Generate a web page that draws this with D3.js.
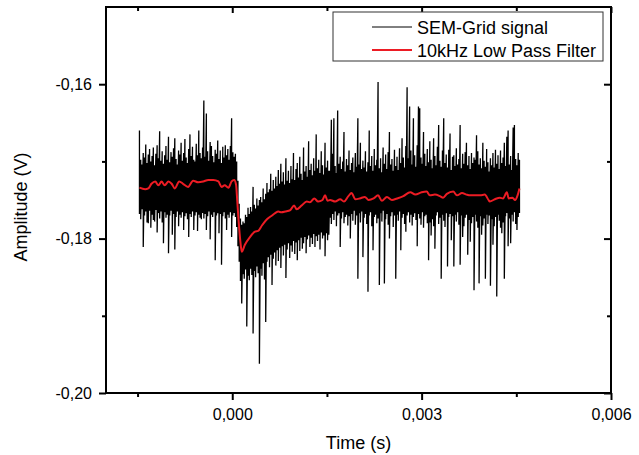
<!DOCTYPE html>
<html>
<head>
<meta charset="utf-8">
<script src="https://cdn.jsdelivr.net/npm/d3@7"></script>
<style>
  html, body { margin: 0; padding: 0; background: #fff; }
  svg { display: block; font-family: "Liberation Sans", Arial, sans-serif; }
</style>
</head>
<body>
<svg id="chart" width="639" height="455"></svg>
<script>
/* -----------------------------------------------------------
   DATA  (time in ms, amplitude in mV; axes print s and V)
----------------------------------------------------------- */
const xMajorTicks = [0, 3, 6];
const xMinorTicks = [-1.5, 1.5, 4.5];
const yMajorTicks = [-200, -180, -160];
const yMinorTicks = [-190, -170];

const legendLabels = ["SEM-Grid signal", "10kHz Low Pass Filter"];

// raw SEM-grid signal, min/max per 20 us bin, first bin at -1.47 ms
const signalStart = -1.47;
const signalStep = 0.02;

const signalMax = [
  -166.0, -169.8, -170.4, -168.9, -169.5, -167.8, -170.2, -169.1, -168.4, -170.0,
  -169.3, -168.2, -170.5, -169.0, -167.9, -169.6, -166.1, -169.9, -168.7, -170.3,
  -169.2, -168.0, -169.8, -166.8, -170.1, -168.8, -169.4, -168.3, -167.0, -169.7,
  -170.4, -168.6, -169.1, -167.6, -169.9, -168.9, -167.1, -169.5, -170.2, -168.4,
  -166.5, -169.3, -168.1, -169.8, -170.0, -167.7, -169.2, -166.0, -168.9, -169.6,
  -168.2, -162.1, -169.4, -163.8, -168.7, -169.9, -167.5, -168.0, -169.3, -170.1,
  -168.5, -169.0, -167.3, -169.7, -168.6, -170.2, -168.1, -169.5, -167.9, -169.2,
  -168.4, -169.8, -168.0, -164.4, -168.8, -169.4, -169.0,
  -170.0, -172.5, -175.5, -177.4, -178.2,
  -177.8, -178.0, -176.9, -177.2, -176.0, -176.8, -175.9, -176.5, -173.3, -175.6,
  -176.1, -174.8, -175.7, -175.0, -174.6, -175.3, -173.5, -174.9, -174.2, -172.8,
  -174.0, -173.6, -171.6, -173.8, -172.4, -173.5, -172.0, -173.2, -171.1, -172.9,
  -170.3, -172.6, -171.4, -173.0, -169.6, -172.5, -171.2, -172.8, -170.6, -172.3,
  -168.9, -172.4, -171.0, -170.2, -172.1, -169.4, -171.6, -172.4, -168.2, -171.3,
  -170.6, -172.0, -167.4, -171.1, -170.3, -171.8, -169.6, -171.2, -166.5, -170.9,
  -169.8, -171.5, -168.7, -170.5, -171.7, -167.6, -170.8, -169.9, -171.2,
  -171.2, -164.6, -169.0, -164.4, -170.6, -171.5, -163.4, -170.3, -169.4, -171.0,
  -170.0, -166.2, -171.3, -169.7, -170.5, -168.6, -171.1, -170.2, -169.5, -171.4,
  -168.9, -170.7, -164.4, -170.4, -167.6, -171.0, -169.9, -170.8, -168.7, -171.3,
  -170.1, -166.0, -170.6, -169.3, -171.2, -168.4, -170.5, -169.8, -159.7, -170.9,
  -169.6, -171.4, -168.2, -170.3, -169.1, -171.0, -168.8, -166.2, -170.4, -169.7,
  -171.2, -168.5, -170.6, -169.4, -171.1, -168.3, -170.2, -167.0, -169.5, -170.8,
  -168.0, -160.4, -169.6, -162.9, -168.6, -170.4, -164.4, -169.2, -170.7, -167.9,
  -162.9, -163.1, -169.5, -170.3, -166.2, -169.0, -170.6, -168.4, -170.1, -167.4,
  -169.8, -170.9, -167.0, -169.3, -170.5, -168.1, -165.3, -169.9, -170.7, -168.6,
  -164.4, -170.2, -169.1, -170.8, -168.5, -166.4, -171.1, -169.4, -169.2, -170.6,
  -168.3, -170.4, -169.7, -165.3, -170.9, -169.0, -170.3, -168.8, -167.6, -170.5,
  -169.3, -171.0, -168.9, -170.2, -169.5, -169.8, -166.6, -168.7, -170.4, -169.6,
  -170.9, -167.6, -169.9, -170.7, -168.4, -170.1, -171.3, -169.6, -170.5, -168.9,
  -170.8, -168.5, -170.3, -169.2, -171.0, -168.6, -170.2, -169.5, -167.6, -170.6,
  -166.8, -166.0, -170.4, -169.3, -171.1, -165.6, -165.3, -169.7, -170.5, -168.9, -169.8
];

const signalMin = [
  -176.8, -177.5, -176.2, -181.1, -177.0, -176.5, -177.9, -178.0, -176.4, -178.6,
  -176.9, -177.6, -177.8, -176.3, -179.2, -176.7, -177.4, -176.5, -177.9, -180.6,
  -176.6, -177.3, -176.9, -181.9, -177.0, -176.4, -179.5, -176.8, -181.4, -177.2,
  -176.5, -178.4, -176.9, -177.3, -176.6, -178.9, -177.1, -176.7, -177.5, -179.8,
  -176.8, -177.2, -176.5, -178.9, -177.0, -176.6, -179.0, -176.9, -177.3, -177.5,
  -176.7, -177.4, -176.8, -178.9, -177.1, -176.5, -180.1, -176.9, -177.2, -176.6,
  -182.8, -177.0, -176.7, -179.3, -176.8, -183.4, -177.1, -176.6, -177.4, -178.9,
  -176.9, -177.3, -176.6, -179.8, -177.0, -176.7, -177.2,
  -178.5, -181.0, -183.0, -185.5, -188.4,
  -184.6, -185.2, -184.0, -191.4, -184.8, -185.4, -183.9, -184.7, -192.3, -184.2,
  -185.0, -183.6, -184.5, -196.2, -183.9, -184.8, -183.2, -185.3, -190.8, -183.0,
  -182.4, -183.7, -182.1, -186.0, -182.6, -181.8, -183.5, -181.5, -182.9, -181.2,
  -183.8, -181.0, -182.2, -180.8, -185.1, -181.4, -180.6, -182.5, -180.9, -181.7,
  -180.3, -182.0, -180.5, -182.8, -180.2, -181.6, -179.9, -181.3, -180.6, -179.8,
  -181.9, -180.1, -179.6, -181.1, -179.9, -180.7, -179.4, -181.1, -179.7, -180.3,
  -179.5, -181.4, -179.2, -180.0, -179.6, -182.3, -179.3, -180.2, -179.5,
  -177.3, -178.1, -176.8, -177.6, -176.5, -178.4, -177.0, -176.7, -181.1, -177.4,
  -176.6, -178.0, -177.2, -176.9, -178.3, -177.1, -180.0, -176.8, -177.7, -176.4,
  -178.2, -177.0, -185.2, -176.7, -177.9, -176.5, -182.4, -177.3, -176.8, -178.1,
  -186.9, -177.0, -176.6, -178.4, -181.5, -177.2, -176.9, -178.0, -177.4, -186.0,
  -176.7, -177.8, -176.4, -185.8, -177.5, -176.8, -178.2, -180.0, -177.1, -176.6,
  -178.5, -177.0, -185.2, -176.9, -177.7, -176.5, -181.5, -177.3, -176.8, -178.1,
  -179.1, -177.0, -176.6, -177.9, -176.9, -178.3, -177.2, -176.7, -177.6, -181.0,
  -176.8, -177.4, -178.2, -176.6, -178.6, -177.1, -176.9, -178.0, -182.8, -177.9,
  -179.6, -177.5, -178.4, -181.3, -177.0, -176.6, -178.1, -177.3, -185.2, -176.9,
  -177.7, -178.5, -176.7, -183.6, -177.2, -176.8, -180.2, -177.1, -183.6, -176.9,
  -177.8, -176.6, -178.2, -183.4, -177.0, -179.8, -178.4, -177.3, -176.9, -182.1,
  -177.6, -180.4, -178.0, -177.2, -186.7, -176.9, -177.8, -178.6, -185.8, -177.1,
  -179.5, -178.3, -177.4, -185.2, -176.9, -178.1, -177.0, -186.1, -177.5, -180.8,
  -178.4, -177.2, -187.5, -176.9, -177.7, -178.6, -179.3, -177.9, -185.2, -177.1,
  -176.7, -181.0, -177.4, -180.6, -176.9, -177.8, -176.6, -178.1, -178.9, -177.2, -176.7
];

// 10 kHz low pass filtered trace
const filterTime = [
  -1.47, -1.38, -1.33, -1.28, -1.22, -1.17, -1.12, -1.07, -1.01, -0.96,
  -0.91, -0.84, -0.78, -0.70, -0.62, -0.54, -0.46, -0.38, -0.30, -0.22,
  -0.17, -0.12, -0.06, -0.01, 0.03, 0.06, 0.08, 0.10, 0.13, 0.15,
  0.20, 0.28, 0.36, 0.41, 0.47, 0.55, 0.63, 0.68, 0.73, 0.78,
  0.84, 0.92, 0.98, 1.02, 1.10, 1.18, 1.23, 1.30, 1.36, 1.43,
  1.47, 1.51, 1.55, 1.63, 1.71, 1.77, 1.84, 1.89, 1.95, 2.02,
  2.10, 2.16, 2.24, 2.31, 2.37, 2.45, 2.53, 2.61, 2.71, 2.82,
  2.90, 3.00, 3.08, 3.13, 3.21, 3.29, 3.34, 3.40, 3.50, 3.56,
  3.64, 3.71, 3.77, 3.85, 3.93, 4.00, 4.06, 4.08, 4.16, 4.24,
  4.29, 4.35, 4.38, 4.44, 4.48, 4.52, 4.55
];
const filterValue = [
  -173.4, -173.6, -173.5, -172.9, -172.6, -173.1, -172.6, -173.1, -172.6, -172.9,
  -173.5, -172.6, -172.9, -173.3, -172.5, -172.7, -172.6, -172.4, -172.4, -172.6,
  -173.3, -173.1, -173.4, -172.6, -172.4, -173.0, -175.2, -177.6, -180.5, -181.7,
  -180.8, -179.8, -179.1, -179.0, -178.3, -177.5, -177.0, -176.7, -176.5, -176.6,
  -176.5, -176.3, -175.7, -176.2, -175.7, -175.2, -175.3, -174.8, -175.2, -175.0,
  -174.4, -175.1, -175.0, -175.2, -174.9, -175.2, -174.5, -174.1, -174.9, -174.8,
  -174.6, -175.0, -174.8, -174.4, -175.1, -174.6, -175.0, -174.8, -174.5, -174.0,
  -174.3, -174.0, -173.9, -174.4, -174.3, -174.5, -174.7, -174.2, -173.9, -174.4,
  -174.1, -174.3, -174.4, -174.4, -174.4, -174.3, -175.0, -175.2, -174.9, -174.7,
  -174.8, -174.0, -174.8, -174.7, -175.0, -174.4, -173.5
];

/* -----------------------------------------------------------
   SCALES
----------------------------------------------------------- */
const svg = d3.select("#chart");
const plot = { left: 106, right: 611, top: 7, bottom: 393 };

const x = d3.scaleLinear().domain([-2, 6]).range([plot.left, plot.right]);
const y = d3.scaleLinear().domain([-200, -150]).range([plot.bottom, plot.top]);

const fmtX = (d) => (d / 1000).toFixed(3).replace(".", ",");
const fmtY = (d) => (d / 1000).toFixed(2).replace(".", ",");

/* -----------------------------------------------------------
   SIGNAL + FILTER
----------------------------------------------------------- */
const signalPts = [];
signalMax.forEach((hi, i) => {
  const t = signalStart + i * signalStep;
  signalPts.push([t, hi], [t, signalMin[i]]);
});

const line = d3.line()
  .x((d) => x(d[0]))
  .y((d) => y(d[1]));

svg.append("path")
  .attr("d", line(signalPts))
  .attr("fill", "none")
  .attr("stroke", "#000")
  .attr("stroke-width", 1.3);

const filterPts = filterTime.map((t, i) => [t, filterValue[i]]);
svg.append("path")
  .attr("d", line.curve(d3.curveMonotoneX)(filterPts))
  .attr("fill", "none")
  .attr("stroke", "#ec1c24")
  .attr("stroke-width", 2)
  .attr("stroke-linejoin", "round");

/* -----------------------------------------------------------
   AXES  (left/bottom ticks out, top/right ticks in)
----------------------------------------------------------- */
function styleAxis(g) {
  g.select(".domain").remove();
  g.selectAll(".tick line").attr("stroke", "#000").attr("stroke-width", 2);
  g.selectAll(".tick text").attr("fill", "#000").attr("font-size", 16)
    .attr("font-family", "Liberation Sans, Arial, sans-serif");
}

const bottom = svg.append("g").attr("transform", `translate(0,${plot.bottom})`);
bottom.call(d3.axisBottom(x).tickValues(xMajorTicks).tickSize(7).tickPadding(8.5).tickFormat(fmtX)).call(styleAxis);
svg.append("g").attr("transform", `translate(0,${plot.bottom})`)
  .call(d3.axisBottom(x).tickValues(xMinorTicks).tickSize(4).tickFormat("")).call(styleAxis);

svg.append("g").attr("transform", `translate(0,${plot.top})`)
  .call(d3.axisTop(x).tickValues(xMajorTicks).tickSize(-6).tickFormat("")).call(styleAxis);
svg.append("g").attr("transform", `translate(0,${plot.top})`)
  .call(d3.axisTop(x).tickValues(xMinorTicks).tickSize(-4).tickFormat("")).call(styleAxis);

svg.append("g").attr("transform", `translate(${plot.left},0)`)
  .call(d3.axisLeft(y).tickValues(yMajorTicks).tickSize(7).tickPadding(7).tickFormat(fmtY)).call(styleAxis);
svg.append("g").attr("transform", `translate(${plot.left},0)`)
  .call(d3.axisLeft(y).tickValues(yMinorTicks).tickSize(4).tickFormat("")).call(styleAxis);

svg.append("g").attr("transform", `translate(${plot.right},0)`)
  .call(d3.axisRight(y).tickValues(yMajorTicks).tickSize(-7).tickFormat("")).call(styleAxis);
svg.append("g").attr("transform", `translate(${plot.right},0)`)
  .call(d3.axisRight(y).tickValues(yMinorTicks).tickSize(-4).tickFormat("")).call(styleAxis);

svg.append("rect")
  .attr("x", plot.left)
  .attr("y", plot.top)
  .attr("width", plot.right - plot.left)
  .attr("height", plot.bottom - plot.top)
  .attr("fill", "none")
  .attr("stroke", "#000")
  .attr("stroke-width", 2);

/* -----------------------------------------------------------
   AXIS TITLES
----------------------------------------------------------- */
svg.append("text")
  .attr("x", (plot.left + plot.right) / 2)
  .attr("y", 449)
  .attr("text-anchor", "middle")
  .attr("font-size", 18)
  .text("Time (s)");

svg.append("text")
  .attr("transform", "translate(26.5,207) rotate(-90)")
  .attr("text-anchor", "middle")
  .attr("font-size", 18)
  .text("Amplitude (V)");

/* -----------------------------------------------------------
   LEGEND
----------------------------------------------------------- */
const legend = svg.append("g");
legend.append("rect")
  .attr("x", 333)
  .attr("y", 12)
  .attr("width", 270)
  .attr("height", 49)
  .attr("fill", "#fff")
  .attr("stroke", "#333")
  .attr("stroke-width", 1);

const legendColors = ["#000", "#ec1c24"];
const legendWidths = [1, 2];
legendLabels.forEach((label, i) => {
  const ly = 27 + i * 23;
  legend.append("line")
    .attr("x1", 372).attr("x2", 412)
    .attr("y1", ly).attr("y2", ly)
    .attr("stroke", legendColors[i])
    .attr("stroke-width", legendWidths[i]);
  legend.append("text")
    .attr("x", 417)
    .attr("y", ly + 6.5)
    .attr("font-size", 18)
    .text(label);
});
</script>
</body>
</html>
